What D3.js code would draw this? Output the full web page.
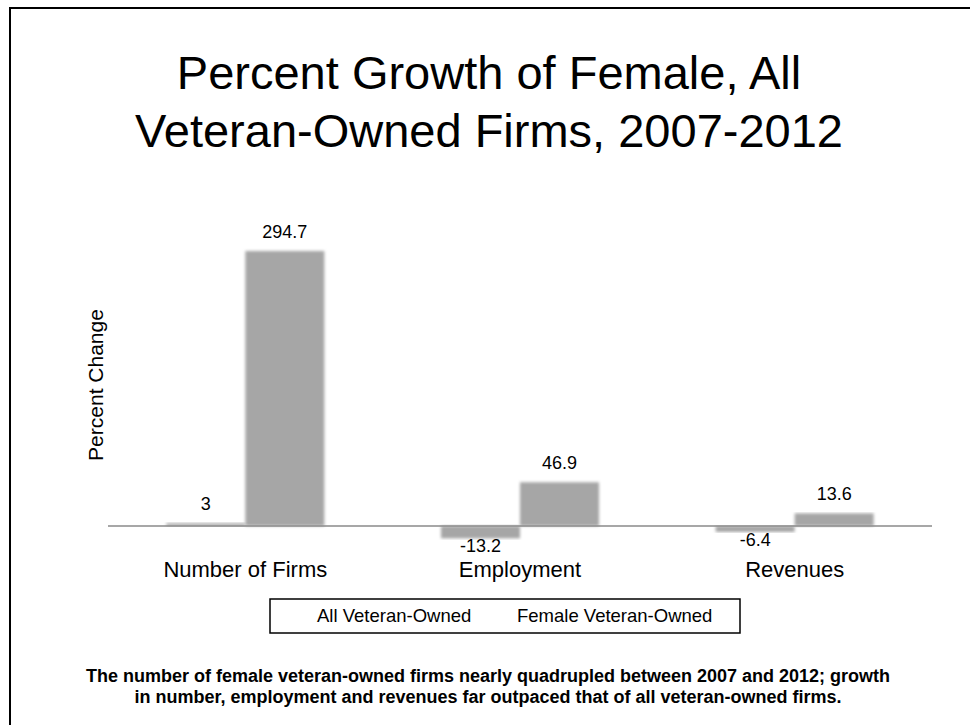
<!DOCTYPE html>
<html>
<head>
<meta charset="utf-8">
<script src="https://cdnjs.cloudflare.com/ajax/libs/d3/7.8.5/d3.min.js"></script>
<style>
  html, body { margin: 0; padding: 0; background: #fff; }
  svg text { font-family: "Liberation Sans", Arial, sans-serif; fill: #000; }
</style>
</head>
<body>
<svg id="chart" width="970" height="725"></svg>
<script>
// Percent change, 2007-2012
const categories = ["Number of Firms", "Employment", "Revenues"];
const seriesNames = ["All Veteran-Owned", "Female Veteran-Owned"];
const allVeteran = [3, -13.2, -6.4];
const femaleVeteran = [294.7, 46.9, 13.6];
const titleLines = ["Percent Growth of Female, All", "Veteran-Owned Firms, 2007-2012"];
const noteLines = [
  "The number of female veteran-owned firms nearly quadrupled between 2007 and 2012; growth",
  "in number, employment and revenues far outpaced that of all veteran-owned firms."
];

const svg = d3.select("#chart");

// soft edge on the columns
const defs = svg.append("defs");
const f = defs.append("filter").attr("id", "soft")
  .attr("x", "-10%").attr("y", "-10%").attr("width", "120%").attr("height", "120%");
f.append("feGaussianBlur").attr("in", "SourceGraphic").attr("stdDeviation", 1.6);

// outer frame
svg.append("rect")
  .attr("x", 10).attr("y", 8).attr("width", 1000).attr("height", 800)
  .attr("fill", "none").attr("stroke", "#000").attr("stroke-width", 2);

// title
svg.append("g").selectAll("text").data(titleLines).join("text")
  .attr("x", 489).attr("y", (d, i) => 89 + i * 58)
  .attr("text-anchor", "middle")
  .style("font-size", "47px")
  .text(d => d);

const x0 = d3.scaleBand().domain(categories).range([108, 932]);
const x1 = d3.scaleBand().domain(seriesNames).range([0, 158]);
const y = d3.scaleLinear().domain([0, 294.7]).range([526, 251]);

const rows = categories.map((c, i) => ({
  cat: c,
  vals: [
    { s: seriesNames[0], v: allVeteran[i] },
    { s: seriesNames[1], v: femaleVeteran[i] }
  ]
}));

const groups = svg.append("g").selectAll("g").data(rows).join("g")
  .attr("transform", d => `translate(${x0(d.cat) + (x0.bandwidth() - 158) / 2},0)`);

groups.selectAll("rect").data(d => d.vals).join("rect")
  .attr("x", d => x1(d.s))
  .attr("width", x1.bandwidth())
  .attr("y", d => y(Math.max(0, d.v)))
  .attr("height", d => Math.abs(y(d.v) - y(0)))
  .attr("fill", "#a6a6a6")
  .attr("filter", "url(#soft)");

// value labels
groups.selectAll("text").data(d => d.vals).join("text")
  .attr("x", d => x1(d.s) + x1.bandwidth() / 2)
  .attr("y", d => d.v >= 0 ? y(d.v) - 13 : y(d.v) + 14)
  .attr("text-anchor", "middle")
  .style("font-size", "18px")
  .text(d => d.v);

// zero line
svg.append("line")
  .attr("x1", 108).attr("x2", 932)
  .attr("y1", y(0)).attr("y2", y(0))
  .attr("stroke", "#8a8a8a").attr("stroke-width", 1.5);

// category labels
svg.append("g").selectAll("text").data(categories).join("text")
  .attr("x", d => x0(d) + x0.bandwidth() / 2)
  .attr("y", 577)
  .attr("text-anchor", "middle")
  .style("font-size", "22px")
  .text(d => d);

// y axis title
svg.append("text")
  .attr("transform", "translate(103,385) rotate(-90)")
  .attr("text-anchor", "middle")
  .style("font-size", "21px")
  .text("Percent Change");

// legend
svg.append("rect")
  .attr("x", 270).attr("y", 599).attr("width", 470).attr("height", 34)
  .attr("fill", "none").attr("stroke", "#000").attr("stroke-width", 1.5);
svg.append("g").selectAll("text").data(seriesNames).join("text")
  .attr("x", (d, i) => [317, 517][i])
  .attr("y", 622)
  .style("font-size", "18.5px")
  .text(d => d);

// note
svg.append("g").selectAll("text").data(noteLines).join("text")
  .attr("x", 488).attr("y", (d, i) => 682 + i * 21)
  .attr("text-anchor", "middle")
  .style("font-size", "18px")
  .style("font-weight", "bold")
  .text(d => d);
</script>
</body>
</html>
